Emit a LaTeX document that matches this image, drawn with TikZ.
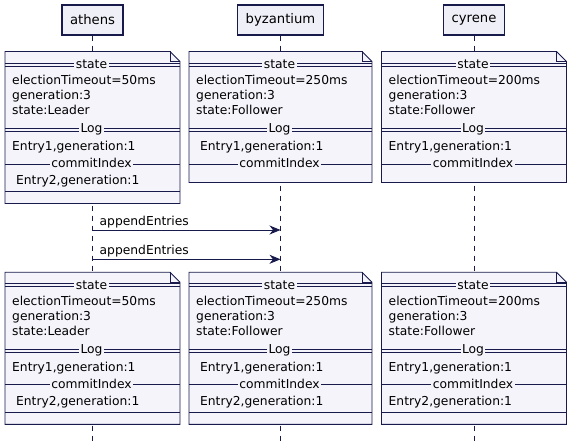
\documentclass[tikz,border=0pt]{standalone}
\usepackage{fontspec}
\setmainfont{DejaVu Sans}
\usetikzlibrary{arrows.meta,positioning}
\definecolor{plantink}{HTML}{181A4C}
\definecolor{actorbg}{HTML}{EFEFF8}
\definecolor{notebg}{HTML}{F4F4FA}
\tikzset{
  actor/.style={draw=plantink,fill=actorbg,line width=1.4pt,inner xsep=8pt,
                minimum height=30pt,font=\fontsize{13.2}{15}\selectfont},
  lifeline/.style={draw=plantink,line width=0.8pt,dash pattern=on 5pt off 5pt},
  note/.style={draw=plantink,fill=notebg,line width=0.9pt},
  sep/.style={draw=plantink,line width=0.8pt},
  notetext/.style={anchor=base west,inner sep=0pt,font=\fontsize{12.3}{14}\selectfont},
  septext/.style={anchor=base,fill=notebg,inner xsep=1.5pt,inner ysep=0.5pt,
                  font=\fontsize{12.3}{14}\selectfont},
  msg/.style={-{Stealth[length=11pt,width=9pt,inset=3.5pt]},line width=0.9pt,
              draw=plantink},
  msgtext/.style={anchor=base west,inner sep=0pt,font=\fontsize{12.3}{14}\selectfont}
}
% #1 name, #2 lifeline x, #3 top y, #4 half width, #5 timeout, #6 role,
% #7 first entry, #8 second entry (empty: none)
\newcommand{\raftnote}[8]{%
  \begin{scope}[shift={(#2,#3)}]
    \if\relax\detokenize{#8}\relax\def\noteh{131}\else\def\noteh{152}\fi
    \path[note] (-#4,0) -- ({#4-10},0) -- (#4,10) -- (#4,\noteh) -- (-#4,\noteh) -- cycle;
    \draw[sep] ({#4-10},0) -- ({#4-10},10) -- (#4,10);
    \draw[sep] (-#4,11.5) -- (#4,11.5) (-#4,14.5) -- (#4,14.5);
    \node[septext] (#1-st) at (-1,16.8) {state};
    \node[notetext] (#1-to) at ({-#4+7},33) {electionTimeout=#5};
    \node[notetext] (#1-gen) at ({-#4+7},48) {generation:3};
    \node[notetext] (#1-role) at ({-#4+7},63) {state:#6};
    \draw[sep] (-#4,77) -- (#4,77) (-#4,80) -- (#4,80);
    \node[septext] (#1-log) at (-1,81.5) {Log};
    \node[notetext] (#1-e1) at ({-#4+7},99) {#7};
    \draw[sep] (-#4,112.5) -- (#4,112.5);
    \node[septext] (#1-ci) at (-1,116) {commitIndex};
    \if\relax\detokenize{#8}\relax\else
      \node[notetext] (#1-e2) at ({-#4+7},133.3) {#8};
      \draw[sep] (-#4,140.2) -- (#4,140.2);
    \fi
  \end{scope}}

\begin{document}
\begin{tikzpicture}[x=1pt,y=-1pt]
  \useasboundingbox (0,0) rectangle (573,446);
  \fill[white] (0,0) rectangle (573,446);
  % participants
  \node[actor] (athens) at (92.5,20) {athens};
  \node[actor] (byzantium) at (280.5,20) {byzantium};
  \node[actor] (cyrene) at (474,20) {cyrene};
  \coordinate (athens-end) at (92.5,441);
  \coordinate (byzantium-end) at (280.5,441);
  \coordinate (cyrene-end) at (474,441);
  \draw[lifeline] (athens) -- (athens-end);
  \draw[lifeline] (byzantium) -- (byzantium-end);
  \draw[lifeline] (cyrene) -- (cyrene-end);
  % state before replication
  \raftnote{an1}{92.5}{51.5}{87.5}{50ms}{Leader}{Entry1,generation:1}{\ Entry2,generation:1}
  \raftnote{bn1}{280.5}{51.5}{91.5}{250ms}{Follower}{\ Entry1,generation:1}{}
  \raftnote{cn1}{474}{51.5}{92.5}{200ms}{Follower}{Entry1,generation:1}{}
  % messages
  \coordinate (m1-from) at (92.5,230);
  \coordinate (m1-to) at (280.5,230);
  \coordinate (m2-from) at (92.5,259.3);
  \coordinate (m2-to) at (280.5,259.3);
  \draw[msg] (m1-from) -- (m1-to);
  \node[msgtext] (m1-lbl) at ([xshift=7pt,yshift=4.8pt]m1-from) {appendEntries};
  \draw[msg] (m2-from) -- (m2-to);
  \node[msgtext] (m2-lbl) at ([xshift=7pt,yshift=4.8pt]m2-from) {appendEntries};
  % state after replication
  \raftnote{an2}{92.5}{272.3}{87.5}{50ms}{Leader}{Entry1,generation:1}{\ Entry2,generation:1}
  \raftnote{bn2}{280.5}{272.3}{91.5}{250ms}{Follower}{\ Entry1,generation:1}{\ Entry2,generation:1}
  \raftnote{cn2}{474}{272.3}{92.5}{200ms}{Follower}{Entry1,generation:1}{Entry2,generation:1}
\end{tikzpicture}
\end{document}
